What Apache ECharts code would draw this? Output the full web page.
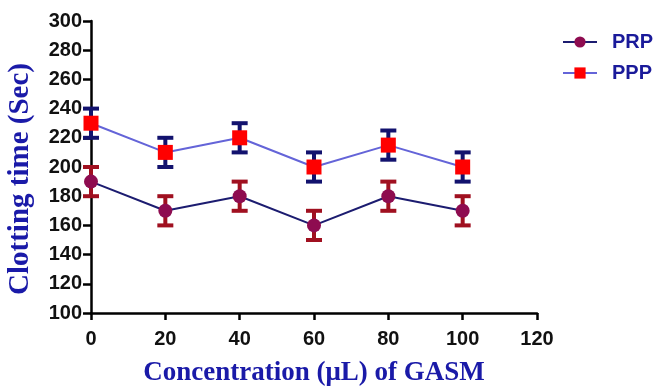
<!DOCTYPE html>
<html>
<head>
<meta charset="utf-8">
<script src="https://cdn.jsdelivr.net/npm/echarts@6/dist/echarts.min.js"></script>
<style>
  html, body { margin: 0; padding: 0; background: #fff; }
  #chart { width: 662px; height: 387px; }
</style>
</head>
<body>
<div id="chart"></div>
<script>
// Concentration (uL) of GASM
const concentrations = [0, 20, 40, 60, 80, 100]
// Clotting time (Sec), mean and error
const prpMean = [190, 170, 180, 160, 180, 170]
const prpErr = [10, 10, 10, 10, 10, 10]
const pppMean = [230, 210, 220, 200, 215, 200]
const pppErr = [10, 10, 10, 10, 10, 10]

const chart = echarts.init(document.getElementById('chart'), null, { renderer: 'canvas' })

// error bar series (vertical line + caps)
const errorBars = (name, means, errs, color) => ({
  name: name + ' err',
  type: 'custom',
  z: 1,
  silent: true,
  data: concentrations.map((x, i) => [x, means[i] - errs[i], means[i] + errs[i]]),
  renderItem: (params, api) => {
    const lo = api.coord([api.value(0), api.value(1)])
    const hi = api.coord([api.value(0), api.value(2)])
    const cap = 8
    const style = { stroke: color, lineWidth: 4 }
    return {
      type: 'group',
      children: [
        { type: 'line', shape: { x1: lo[0], y1: lo[1], x2: hi[0], y2: hi[1] }, style },
        { type: 'line', shape: { x1: lo[0] - cap, y1: lo[1], x2: lo[0] + cap, y2: lo[1] }, style },
        { type: 'line', shape: { x1: hi[0] - cap, y1: hi[1], x2: hi[0] + cap, y2: hi[1] }, style }
      ]
    }
  }
})

const axisLabel = { color: '#111', fontFamily: 'Liberation Sans', fontWeight: 'bold', fontSize: 20 }
const axisName = { color: '#1a1aa8', fontFamily: 'Liberation Serif', fontWeight: 'bold' }

chart.setOption({
  animation: false,
  backgroundColor: '#fff',
  grid: { left: 91, top: 21, right: 125, bottom: 74, outerBoundsMode: 'none' },
  legend: {
    orient: 'vertical',
    left: 557,
    top: 27,
    itemGap: 11,
    itemWidth: 34,
    itemHeight: 14,
    data: ['PRP', 'PPP'],
    textStyle: { color: '#1a1a9a', fontFamily: 'Liberation Sans', fontWeight: 'bold', fontSize: 20, padding: [0, 0, 0, 10] }
  },
  xAxis: {
    type: 'value',
    min: 0,
    max: 120,
    interval: 20,
    name: 'Concentration (\u03bcL) of GASM',
    nameLocation: 'middle',
    nameGap: 47,
    nameTextStyle: { ...axisName, fontSize: 27 },
    axisLine: { show: true, lineStyle: { color: '#000', width: 2.5 } },
    axisTick: { show: true, length: 7, lineStyle: { color: '#000', width: 2.5 } },
    axisLabel: { ...axisLabel, margin: 16 },
    splitLine: { show: false }
  },
  yAxis: {
    type: 'value',
    min: 100,
    max: 300,
    interval: 20,
    name: 'Clotting time (Sec)',
    nameLocation: 'middle',
    nameGap: 56,
    nameTextStyle: { ...axisName, fontSize: 29, padding: [0, 24, 0, 0] },
    axisLine: { show: true, lineStyle: { color: '#000', width: 2.5 } },
    axisTick: { show: true, length: 8, lineStyle: { color: '#000', width: 2.5 } },
    axisLabel: { ...axisLabel, margin: 9 },
    splitLine: { show: false }
  },
  series: [
    errorBars('PRP', prpMean, prpErr, '#a01020'),
    errorBars('PPP', pppMean, pppErr, '#12126e'),
    {
      name: 'PRP',
      type: 'line',
      z: 3,
      data: concentrations.map((x, i) => [x, prpMean[i]]),
      symbol: 'circle',
      symbolSize: 14,
      lineStyle: { color: '#1c1c70', width: 2 },
      itemStyle: { color: '#8e0c50' }
    },
    {
      name: 'PPP',
      type: 'line',
      z: 3,
      data: concentrations.map((x, i) => [x, pppMean[i]]),
      symbol: 'rect',
      symbolSize: 15,
      lineStyle: { color: '#6464d8', width: 2 },
      itemStyle: { color: '#ff0000' }
    }
  ]
})
</script>
</body>
</html>
